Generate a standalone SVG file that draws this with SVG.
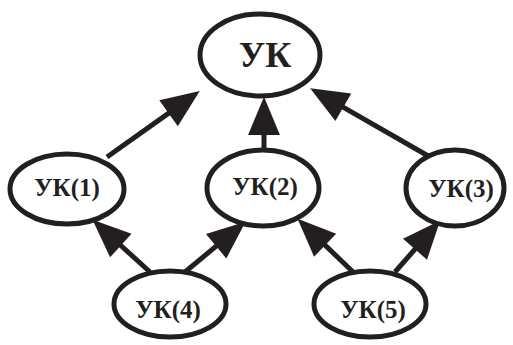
<svg xmlns="http://www.w3.org/2000/svg" width="513" height="345" viewBox="0 0 513 345">
  <style>
    .node ellipse { fill: #ffffff; stroke: #231f20; stroke-width: 5; }
    .node text { font-family: "Liberation Serif", "Times New Roman", serif; font-weight: bold; fill: #231f20; text-anchor: middle; }
    .node text.small { font-size: 25px; }
    .edge { stroke: #231f20; stroke-width: 5; fill: none; marker-end: url(#head); }
  </style>
  <defs>
    <!-- filled arrowhead; tip sits 20px beyond the end of each line -->
    <marker id="head" markerUnits="userSpaceOnUse" markerWidth="40" markerHeight="34" viewBox="0 0 36 32" refX="14" refY="16" orient="auto">
      <path d="M0,1 L36,16 L0,31 Z" fill="#231f20"/>
    </marker>
  </defs>
  <rect width="513" height="345" fill="#ffffff"/>

  <g id="connectors">
    <line class="edge" x1="107" y1="157" x2="180.7" y2="104.6"/>
    <line class="edge" x1="264" y1="150" x2="264" y2="120"/>
    <line class="edge" x1="430" y1="157" x2="330.4" y2="99.9"/>
    <line class="edge" x1="150" y1="272" x2="109.8" y2="235.5"/>
    <line class="edge" x1="185" y1="272" x2="227.6" y2="236.7"/>
    <line class="edge" x1="353" y1="272" x2="314.4" y2="234.9"/>
    <line class="edge" x1="395" y1="272" x2="424.8" y2="238"/>
  </g>

  <g id="uk" class="node">
    <ellipse cx="260" cy="55" rx="60" ry="41"/>
    <text x="265" y="67" font-size="36">УК</text>
  </g>
  <g id="uk1" class="node">
    <ellipse cx="67" cy="189" rx="57" ry="35"/>
    <text class="small" x="67" y="196">УК(1)</text>
  </g>
  <g id="uk2" class="node">
    <ellipse cx="263" cy="188" rx="56" ry="38"/>
    <text class="small" x="265" y="195">УК(2)</text>
  </g>
  <g id="uk3" class="node">
    <ellipse cx="455" cy="188" rx="49" ry="38"/>
    <text class="small" x="461" y="197">УК(3)</text>
  </g>
  <g id="uk4" class="node">
    <ellipse cx="170" cy="304" rx="56" ry="33"/>
    <text class="small" x="168" y="318">УК(4)</text>
  </g>
  <g id="uk5" class="node">
    <ellipse cx="370" cy="304" rx="56" ry="33"/>
    <text class="small" x="373" y="318">УК(5)</text>
  </g>
</svg>
